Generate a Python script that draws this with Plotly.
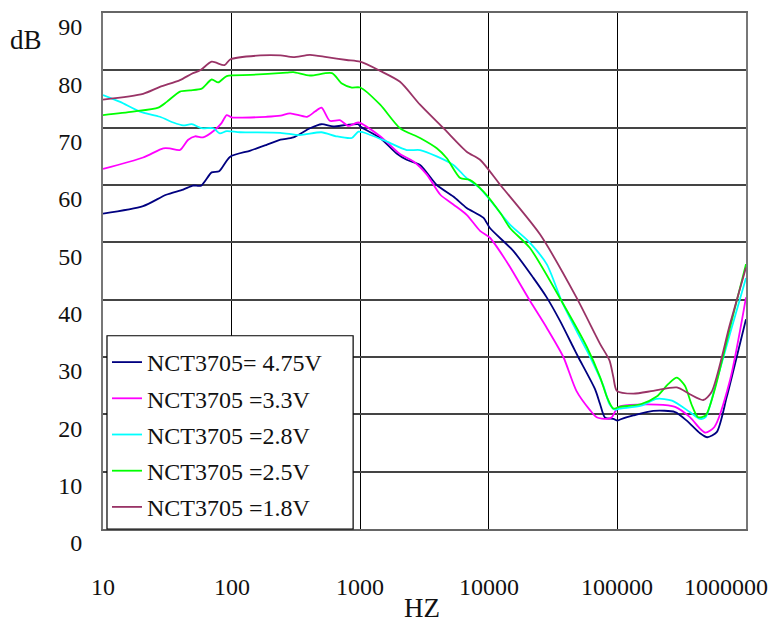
import math
import plotly.graph_objects as go

# ---------------- data ----------------
f_475 = [10, 20.5, 31, 42, 50, 58, 70, 80, 97, 140, 187, 240, 302, 407, 500, 617, 785, 967, 1000,
         1430, 1920, 2300, 2920, 3940, 5300, 6730, 9060, 10200, 15500, 22200, 28200, 35800, 45400,
         49600, 67000, 73300, 80200, 93000, 100000, 105000, 133000, 190000, 281000, 346000, 439000,
         500000, 592000, 708000, 847000, 1000000]
db_475 = [55, 56.3, 58.3, 59.2, 59.9, 59.9, 62.2, 62.4, 64.9, 66.0, 67.0, 67.9, 68.3, 69.9, 70.6, 70.2,
          70.5, 70.6, 70.2, 68.2, 65.5, 64.4, 63.5, 60, 58, 56, 54.3, 52.5, 48.5, 43.8, 40.4, 36.3, 31.7,
          30, 24.4, 21.8, 19.4, 19.2, 18.9, 19.1, 19.8, 20.6, 20.4, 18.9, 16.7, 16, 16.9, 23, 30, 36.6]

f_33 = [10, 20.5, 29.4, 33, 39.7, 46, 52, 60, 74, 83.5, 91.6, 100, 187, 240, 285, 386, 445, 500, 580, 695,
        810, 967, 1430, 2040, 2600, 3300, 4200, 5300, 6730, 8550, 10200, 13700, 20900, 28200, 38000,
        48000, 61400, 69000, 83000, 90500, 96000, 104000, 202000, 281000, 366000, 439000, 485000,
        568000, 750000, 1000000]
db_33 = [62.8, 64.8, 66.4, 66.4, 66.1, 67.9, 68.5, 68.3, 69.6, 70.8, 72.2, 71.8, 71.9, 72.1, 72.5, 71.9,
         72.8, 73.5, 71.2, 71.3, 70.3, 70.9, 68.5, 65.4, 64.1, 61.8, 58.3, 56.6, 54.8, 52, 50.8, 46.7,
         39.8, 35.1, 30, 24.1, 20.7, 19.5, 19.2, 19.5, 20.5, 21.4, 21.7, 21.3, 19.5, 17.5, 16.8, 17.8,
         25.9, 40.4]

f_28 = [10, 13.6, 19.4, 27.7, 35.2, 42, 49, 58.5, 72, 81, 91.6, 116, 240, 340, 500, 650, 860, 967, 1050,
        1600, 2300, 2920, 3940, 5300, 6730, 8550, 10900, 14600, 20300, 28200, 36800, 48000, 61400,
        77700, 86800, 96000, 104000, 153000, 202000, 266000, 366000, 439000, 485000, 592000, 750000,
        1000000]
db_28 = [75.7, 74.5, 72.8, 71.9, 70.9, 70.4, 70.6, 69.9, 69.9, 69.0, 69.4, 69.2, 69.1, 68.7, 69.2, 68.5,
         68.2, 69.3, 69.2, 67.6, 66.1, 66.1, 65.0, 63.5, 61.2, 59.4, 56.6, 53.1, 50.2, 46.2, 39.8, 34.6,
         30, 25, 21.8, 20.8, 21.0, 21.5, 22.7, 22.4, 20.4, 19.2, 19.5, 25.9, 34, 43.8]

f_25 = [10, 17.1, 26.9, 31.3, 39.7, 47.5, 58.5, 70, 78.7, 91.6, 140, 268, 302, 407, 603, 720, 860, 1000,
        1430, 2040, 2920, 3940, 4700, 6000, 7100, 9060, 12300, 14600, 20900, 38000, 58000, 73300,
        83000, 93000, 104000, 153000, 202000, 249000, 290000, 335000, 376000, 424000, 485000, 568000,
        750000, 1000000]
db_25 = [72.2, 72.8, 73.5, 74.5, 76.3, 76.5, 76.8, 78.4, 77.9, 79.0, 79.2, 79.6, 79.7, 79.1, 79.5, 77.7,
         77.0, 77.0, 74.0, 69.9, 68.2, 66.4, 64.7, 61.2, 60.9, 58.9, 55.1, 52.5, 49.0, 39.2, 31.7, 26.5,
         23.0, 21.0, 21.3, 21.8, 23.1, 25.3, 26.4, 25.0, 21.8, 19.5, 19.8, 24.1, 35.1, 46.2]

f_18 = [10, 20.5, 27.7, 39.7, 49, 57, 70, 88, 97.4, 167, 240, 302, 407, 550, 785, 1000, 1430, 2040, 2920,
        4440, 6730, 8550, 12300, 25000, 48000, 73300, 86800, 93000, 99000, 133000, 190000, 290000,
        366000, 465000, 540000, 750000, 1000000]
db_18 = [74.9, 75.9, 77.1, 78.3, 79.4, 80.0, 81.5, 80.9, 81.9, 82.6, 82.6, 82.3, 82.7, 82.3, 81.8, 81.5,
         79.9, 78.0, 74.0, 69.9, 65.8, 64.4, 60.0, 51.4, 40.4, 32.3, 29.4, 26.5, 24.1, 23.6, 24.1, 24.7,
         23.5, 22.5, 23.9, 35.7, 45.6]

series_names = ["NCT3705= 4.75V", "NCT3705 =3.3V", "NCT3705 =2.8V", "NCT3705 =2.5V", "NCT3705 =1.8V"]
series_colors = ["#000080", "#FF00FF", "#00FFFF", "#00FF00", "#993366"]
series_f = [f_475, f_33, f_28, f_25, f_18]
series_db = [db_475, db_33, db_28, db_25, db_18]

x_tick_vals = [10, 100, 1000, 10000, 100000, 1000000]
x_tick_text = ["10", "100", "1000", "10000", "100000", "1000000"]
y_tick_vals = [0, 10, 20, 30, 40, 50, 60, 70, 80, 90]

FONT = "Liberation Serif"
TXT = "#111"

fig = go.Figure()
for i, (name, color, fx, dy) in enumerate(zip(series_names, series_colors, series_f, series_db)):
    fig.add_trace(go.Scatter(x=fx, y=dy, mode="lines", name=name, legendgroup=f"g{i}",
                             line=dict(color=color, width=1.8, shape="spline", smoothing=0.7)))

annotations = []
for v, t in zip(x_tick_vals, x_tick_text):
    last = (v == x_tick_vals[-1])
    annotations.append(dict(
        x=math.log10(v), xref="x", y=-0.113, yref="paper",
        text=t, showarrow=False,
        xanchor="right" if last else "center", yanchor="middle",
        xshift=24 if last else 0,
        font=dict(family=FONT, size=24, color=TXT)))
annotations.append(dict(x=-0.12, y=0.948, xref="paper", yref="paper", text="dB",
                        showarrow=False, xanchor="center", yanchor="middle",
                        font=dict(family=FONT, size=27, color=TXT)))
annotations.append(dict(x=0.496, y=-0.1525, xref="paper", yref="paper", text="HZ",
                        showarrow=False, xanchor="center", yanchor="middle",
                        font=dict(family=FONT, size=27, color=TXT)))

# legend frame (white box that hides the grid under it)
legend_box = dict(type="rect", xref="paper", yref="paper",
                  x0=0.0062, x1=0.389, y0=0.0, y1=0.3745,
                  fillcolor="white", line=dict(color="#000", width=1.2), layer="above")

fig.update_layout(
    width=776, height=623,
    margin=dict(l=103, r=30, t=11, b=94),
    paper_bgcolor="white", plot_bgcolor="white",
    font=dict(family=FONT, size=24, color=TXT),
    xaxis=dict(type="log", range=[1, 6], tickvals=x_tick_vals, showticklabels=False,
               showgrid=True, gridcolor="#000", gridwidth=1,
               showline=True, linecolor="#666", linewidth=2, mirror=True,
               ticks="", zeroline=False),
    yaxis=dict(range=[0, 90], tickvals=y_tick_vals, showgrid=True, gridcolor="#444", gridwidth=1.5,
               showline=True, linecolor="#777", linewidth=2, mirror=True,
               ticks="", zeroline=False, ticklabelshift=14, ticklabelstandoff=14,
               tickfont=dict(family=FONT, size=24, color=TXT)),
    legend=dict(x=0.0062, y=0.0, xanchor="left", yanchor="bottom",
                bgcolor="rgba(0,0,0,0)", borderwidth=0,
                font=dict(family=FONT, size=24, color=TXT),
                itemwidth=30, tracegroupgap=2, traceorder="grouped"),
    showlegend=True,
    shapes=[legend_box],
    annotations=annotations,
)

fig.write_html("out.html", config={"displayModeBar": False},
               post_script="document.body.style.margin='0px';")
